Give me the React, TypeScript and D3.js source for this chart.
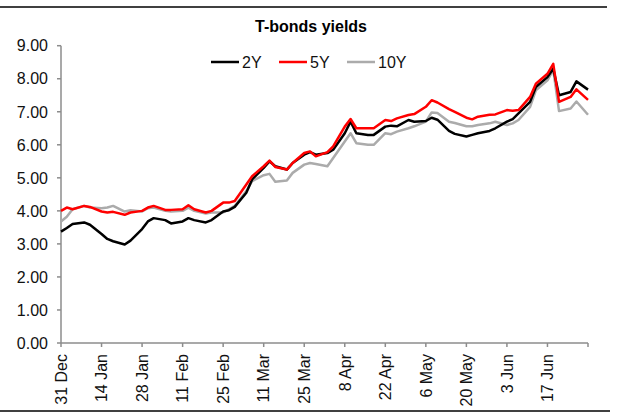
import React from 'react';
import * as d3 from 'd3';

// business days from 31 Dec 2018, sampled every 2nd day (66 points)
const START = new Date(2018, 11, 31);
const END = new Date(2019, 6, 1);

const SERIES_NAMES = ['2Y', '5Y', '10Y'];
const SERIES_COLORS = ['#000000', '#ff0000', '#ababab'];

const Y2 = [
  3.37, 3.48, 3.6, 3.65, 3.58, 3.3, 3.15, 3.08, 2.98, 3.1,
  3.45, 3.68, 3.78, 3.72, 3.62, 3.68, 3.78, 3.72, 3.65, 3.72,
  3.98, 4.02, 4.12, 4.55, 4.95, 5.3, 5.5, 5.35, 5.25, 5.45,
  5.7, 5.78, 5.7, 5.75, 5.85, 6.35, 6.7, 6.35, 6.3, 6.3,
  6.55, 6.58, 6.56, 6.75, 6.7, 6.72, 6.82, 6.76, 6.42, 6.33,
  6.25, 6.3, 6.35, 6.42, 6.5, 6.7, 6.78, 6.95, 7.3, 7.75,
  8.05, 8.3, 7.5, 7.6, 7.92, 7.67,
];
const Y5 = [
  4.0, 4.1, 4.05, 4.15, 4.12, 3.98, 3.95, 3.97, 3.88, 3.95,
  4.0, 4.1, 4.15, 4.03, 4.03, 4.05, 4.17, 4.05, 3.95, 4.0,
  4.25, 4.25, 4.3, 4.8, 5.05, 5.35, 5.52, 5.33, 5.25, 5.45,
  5.75, 5.8, 5.65, 5.78, 5.95, 6.55, 6.78, 6.5, 6.5, 6.5,
  6.75, 6.72, 6.8, 6.9, 6.93, 7.15, 7.35, 7.28, 7.08, 7.0,
  6.82, 6.77, 6.85, 6.91, 6.92, 7.05, 7.03, 7.05, 7.45, 7.85,
  8.15, 8.45, 7.3, 7.45, 7.68, 7.36,
];
const Y10 = [
  3.68, 3.82, 4.05, 4.15, 4.1, 4.08, 4.1, 4.15, 3.98, 4.02,
  3.98, 4.08, 4.1, 4.0, 3.98, 4.0, 4.1, 4.0, 3.92, 3.95,
  3.95, 4.05, 4.15, 4.6, 4.9, 5.08, 5.12, 4.88, 4.92, 5.15,
  5.4, 5.45, 5.42, 5.35, 5.6, 6.1, 6.35, 6.05, 6.0, 6.0,
  6.35, 6.32, 6.4, 6.5, 6.56, 6.7, 6.98, 6.96, 6.7, 6.66,
  6.56, 6.56, 6.6, 6.65, 6.7, 6.6, 6.65, 6.75, 7.15, 7.65,
  7.95, 8.27, 7.02, 7.1, 7.31, 6.91,
];

const Y_TICKS = [0, 1, 2, 3, 4, 5, 6, 7, 8, 9];

const FONT = '"Liberation Sans", Arial, sans-serif';

const App = () => {
  const width = 617;
  const height = 417;

  const businessDays = d3.timeDay
    .range(START, d3.timeDay.offset(END, 1))
    .filter((d) => d.getDay() !== 0 && d.getDay() !== 6);
  const dates = businessDays.filter((_, i) => i % 2 === 0);

  const x = d3.scaleTime().domain([START, END]).range([61, 588]);
  const y = d3.scaleLinear().domain([0, 9]).range([343, 45.7]);

  const xTicks = d3.timeMonday.range(START, d3.timeDay.offset(END, 1), 2);
  const fmt = d3.timeFormat('%-d %b');

  const seriesValues = [Y2, Y5, Y10];
  const line = d3
    .line<number>()
    .x((_, i) => x(dates[i]))
    .y((d) => y(d));

  const drawOrder = [2, 0, 1];
  const axisColor = '#8c8c8c';

  return (
    <svg
      width={width}
      height={height}
      style={{ position: 'absolute', left: 0, top: 0, background: '#fff' }}
      fontFamily={FONT}
    >
      {/* frame lines */}
      <line x1={0} x2={607} y1={7} y2={7} stroke="#000" strokeWidth={1.5} />
      <line x1={0} x2={610} y1={411} y2={411} stroke="#000" strokeWidth={1.5} />

      <text x={311} y={32} textAnchor="middle" fontSize={16} fontWeight="bold">
        T-bonds yields
      </text>

      {/* y axis */}
      <line x1={61} x2={61} y1={y(9)} y2={y(0)} stroke={axisColor} strokeWidth={1.5} />
      {Y_TICKS.map((t) => (
        <g key={t}>
          <line x1={57} x2={61} y1={y(t)} y2={y(t)} stroke={axisColor} strokeWidth={1.5} />
          <text x={48} y={y(t)} dy="0.36em" textAnchor="end" fontSize={16} fill="#111">
            {t.toFixed(2)}
          </text>
        </g>
      ))}

      {/* x axis */}
      <line x1={61} x2={588} y1={y(0)} y2={y(0)} stroke={axisColor} strokeWidth={1.5} />
      {xTicks.map((d, i) => (
        <g key={i}>
          <line x1={x(d)} x2={x(d)} y1={y(0)} y2={y(0) + 4} stroke={axisColor} strokeWidth={1.5} />
          {i < xTicks.length - 1 && (
            <text
              transform={`translate(${x(d)},354) rotate(-90)`}
              dy="0.36em"
              textAnchor="end"
              fontSize={16}
              fill="#111"
            >
              {fmt(d)}
            </text>
          )}
        </g>
      ))}

      {/* lines */}
      {drawOrder.map((k) => (
        <path
          key={k}
          d={line(seriesValues[k]) || ''}
          fill="none"
          stroke={SERIES_COLORS[k]}
          strokeWidth={2.5}
          strokeLinejoin="round"
        />
      ))}

      {/* legend */}
      {[
        { k: 0, x0: 211 },
        { k: 1, x0: 279 },
        { k: 2, x0: 347 },
      ].map(({ k, x0 }) => (
        <g key={k}>
          <line x1={x0} x2={x0 + 28} y1={62} y2={62} stroke={SERIES_COLORS[k]} strokeWidth={2.5} />
          <text x={x0 + 31} y={62} dy="0.36em" fontSize={16} fill="#111">
            {SERIES_NAMES[k]}
          </text>
        </g>
      ))}
    </svg>
  );
};

export default App;
